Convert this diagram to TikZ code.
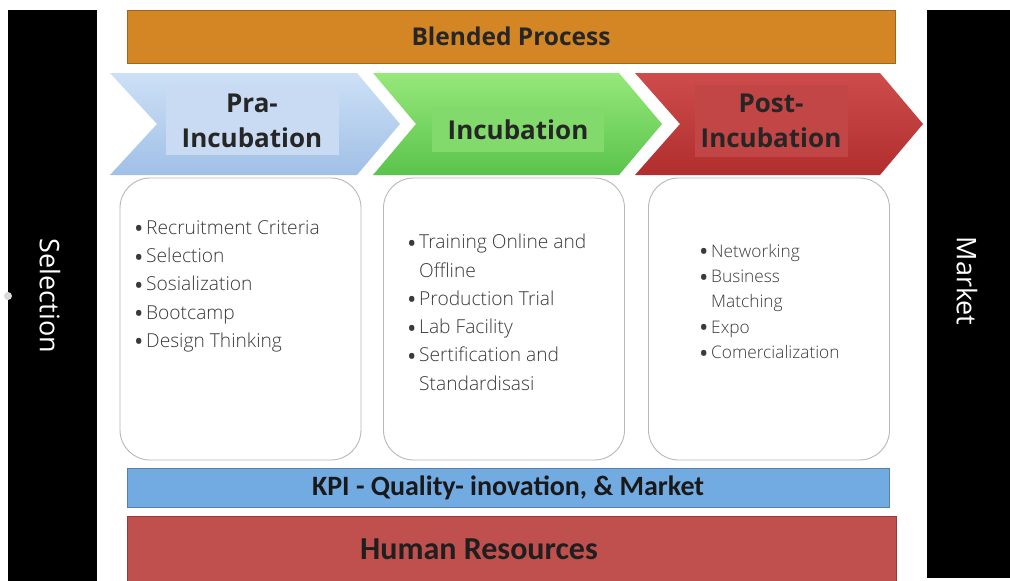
\documentclass[tikz,border=0pt]{standalone}
\usepackage{fontspec}
\setmainfont{Open Sans}
\newfontfamily\calibri{Carlito}
% thin face for the item lists, if present
\IfFontExistsTF{Open Sans Light}{\newfontfamily\listfont{Open Sans Light}}{\newfontfamily\listfont{Open Sans}}

\definecolor{blendorange}{RGB}{212,134,36}
\definecolor{kpiblue}{RGB}{114,170,226}
\definecolor{hrred}{RGB}{192,80,77}
\definecolor{listgray}{RGB}{58,58,58}

% bullet with a fixed indent, and an empty indent for wrapped lines
\newcommand{\itm}[1]{\makebox[12pt][l]{\raisebox{-3.6pt}{\rmfamily\fontsize{25}{25}\selectfont\textbullet}}#1}
\newcommand{\cont}[1]{\makebox[12pt][l]{}#1}

\tikzset{
  bar/.style={draw=#1!75!black, fill=#1, inner sep=0pt},
  sidebar/.style={fill=black, inner sep=0pt},
  sidetext/.style={white, rotate=-90, font=\fontsize{27}{30}\selectfont},
  stagetext/.style={align=center, inner sep=0pt, font=\bfseries\fontsize{26}{35}\selectfont, text=black!85},
  itembox/.style={draw=black!28, line width=0.9pt, fill=white, rounded corners=30pt,
    minimum width=241pt, minimum height=282pt},
  listtext/.style={anchor=north west, align=left, inner sep=0pt, text=listgray},
}

\begin{document}
\begin{tikzpicture}[x=1pt, y=-1pt]
  \useasboundingbox (0,0) rectangle (1010,581);
  \fill[white] (0,0) rectangle (1010,581);

  % side bars
  \node[sidebar, minimum width=89pt, minimum height=575pt] (selbar) at (52.5,297.5) {};
  \node[sidebar, minimum width=83pt, minimum height=568pt] (mktbar) at (968.5,294) {};
  \node[sidetext] (sel) at (50,296) {Selection};
  \node[sidetext] (mkt) at (967,281) {Market};
  \fill[black!15] (8,296) circle (4);

  % top and bottom bars
  \node[bar=blendorange, minimum width=768pt, minimum height=53pt,
    font=\bfseries\fontsize{24.5}{28}\selectfont, text=black!85] (blended) at (511,36.5) {Blended Process};
  \node[bar=kpiblue, minimum width=762pt, minimum height=39pt,
    font=\calibri\bfseries\fontsize{28}{30}\selectfont, text=black!90] (kpi) at (508,487.5) {KPI - Quality- inovation, \& Market};
  \node[bar=hrred, minimum width=769pt, minimum height=70pt] (hr) at (511.5,551) {};
  \node[font=\calibri\bfseries\fontsize{32}{34}\selectfont, text=black!88] (hrtext) at (479,549) {Human Resources};

  % stage chevrons
  \shade[top color={rgb,255:red,205;green,224;blue,246}, bottom color={rgb,255:red,160;green,192;blue,230}]
    (110,73) -- (357,73) -- (400,124) -- (357,175) -- (110,175) -- (157,124) -- cycle;
  \shade[top color={rgb,255:red,150;green,232;blue,122}, bottom color={rgb,255:red,90;green,196;blue,76}]
    (373,73) -- (619,73) -- (662,124) -- (619,175) -- (373,175) -- (416,124) -- cycle;
  \shade[top color={rgb,255:red,206;green,76;blue,76}, bottom color={rgb,255:red,176;green,46;blue,46}]
    (635,73) -- (880,73) -- (923,124) -- (880,175) -- (635,175) -- (680,124) -- cycle;

  \node[stagetext, fill={rgb,255:red,200;green,219;blue,243}, minimum width=173pt, minimum height=68pt] (pra) at (252,121) {Pra-\\Incubation};
  \node[stagetext, fill={rgb,255:red,130;green,218;blue,108}, minimum width=172pt, minimum height=44pt] (inc) at (518,130) {Incubation};
  \node[stagetext, fill={rgb,255:red,194;green,70;blue,70}, minimum width=153pt, minimum height=72pt] (post) at (771,121) {Post-\\Incubation};

  % activity boxes
  \node[itembox] (prabox) at (240.5,319) {};
  \node[itembox] (incbox) at (504,319) {};
  \node[itembox] (postbox) at (769,319) {};

  \node[listtext, font=\listfont\fontsize{19.2}{28.3}\selectfont] (pralist) at (134,220) {%
    \itm{Recruitment Criteria}\\
    \itm{Selection}\\
    \itm{Sosialization}\\
    \itm{Bootcamp}\\
    \itm{Design Thinking}};
  \node[listtext, font=\listfont\fontsize{19.2}{28.3}\selectfont] (inclist) at (407,234) {%
    \itm{Training Online and}\\
    \cont{Offline}\\
    \itm{Production Trial}\\
    \itm{Lab Facility}\\
    \itm{Sertification and}\\
    \cont{Standardisasi}};
  \node[listtext, font=\listfont\fontsize{17.3}{25.3}\selectfont] (postlist) at (699,244) {%
    \itm{Networking}\\
    \itm{Business}\\
    \cont{Matching}\\
    \itm{Expo}\\
    \itm{Comercialization}};
\end{tikzpicture}
\end{document}
